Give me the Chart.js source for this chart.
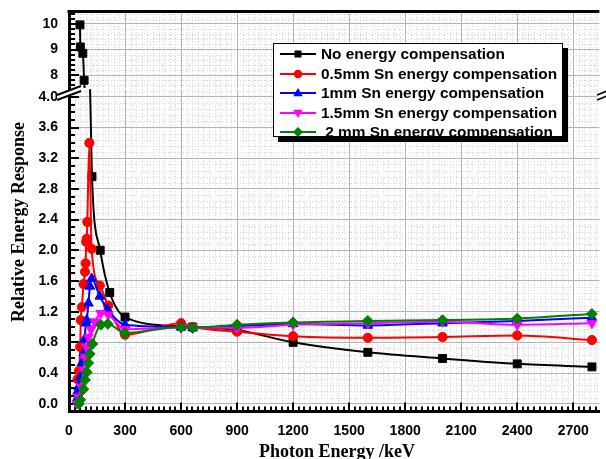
<!DOCTYPE html>
<html>
<head>
<meta charset="utf-8">
<script src="https://cdn.jsdelivr.net/npm/chart.js@4.4.0/dist/chart.umd.min.js"></script>
<style>
html,body{margin:0;padding:0;background:#fff;}
#wrap{position:relative;width:606px;height:459px;overflow:hidden;background:#fff;}
#cTop{position:absolute;left:0;top:0;}
#cBot{position:absolute;left:0;top:76px;}
#brk{position:absolute;left:0;top:0;pointer-events:none;}
.ytitle{position:absolute;left:17.5px;top:222px;transform:translate(-50%,-50%) rotate(-90deg);font:bold 18px "Liberation Serif","Times New Roman",serif;white-space:nowrap;color:#000;}
.xtitle{position:absolute;left:337px;top:451px;transform:translate(-50%,-50%);font:bold 18px "Liberation Serif","Times New Roman",serif;white-space:nowrap;color:#000;}
#legend{position:absolute;left:273px;top:43px;width:288px;height:92px;border:1px solid #000;background:#fff;box-shadow:5px 5px 0 #000;font:bold 15.4px "Liberation Sans",Arial,sans-serif;color:#000;}
.row{position:absolute;left:0;height:20px;display:flex;align-items:center;white-space:pre;}
.row svg{margin-left:6px;margin-right:5px;flex:none;}
</style>
</head>
<body>
<div id="wrap">
  <canvas id="cTop" width="606" height="100"></canvas>
  <canvas id="cBot" width="606" height="383"></canvas>
  <svg id="brk" width="606" height="459">
    <polygon points="57,95 81,86 81,91 57,100" fill="#fff"/>
    <line x1="57" y1="95" x2="81" y2="86" stroke="#000" stroke-width="2"/>
    <line x1="57" y1="100" x2="81" y2="91" stroke="#000" stroke-width="2"/>
    <polygon points="597,95 612,89 612,94 597,100" fill="#fff"/>
    <line x1="597" y1="95" x2="612" y2="89" stroke="#000" stroke-width="1.5"/>
    <line x1="597" y1="100" x2="612" y2="94" stroke="#000" stroke-width="1.5"/>
  </svg>
  <div class="ytitle">Relative Energy Response</div>
  <div class="xtitle">Photon Energy /keV</div>
  <div id="legend"></div>
</div>
<script>
// ---------------- data ----------------
const seriesNames = [
  'No energy compensation',
  '0.5mm Sn energy compensation',
  '1mm Sn energy compensation',
  '1.5mm Sn energy compensation',
  ' 2 mm Sn energy compensation'
];
const energyBlack = [59, 61, 74, 81, 123, 167, 218, 300, 600, 662, 900, 1200, 1600, 2000, 2400, 2800];
const respBlack   = [9.96, 9.10, 8.85, 7.80, 2.96, 2.00, 1.45, 1.13, 1.01, 1.00, 0.96, 0.80, 0.67, 0.59, 0.52, 0.48];

const energyRed = [46, 54, 60, 63, 69, 78, 86, 89, 92, 95, 98, 109, 121, 165, 210, 300, 600, 662, 900, 1200, 1600, 2000, 2400, 2800];
const respRed   = [0.32, 0.43, 0.74, 1.09, 1.26, 1.56, 1.72, 1.83, 2.11, 2.15, 2.37, 3.40, 2.02, 1.54, 1.28, 0.90, 1.05, 1.00, 0.94, 0.88, 0.86, 0.87, 0.89, 0.83];

const energyBlue = [42, 46, 51, 60, 69, 78, 83, 91, 95, 104, 112, 121, 165, 206, 300, 600, 662, 900, 1200, 1600, 2000, 2400, 2800];
const respBlue   = [0.06, 0.16, 0.22, 0.34, 0.53, 0.66, 0.84, 1.05, 1.09, 1.31, 1.53, 1.63, 1.40, 1.23, 1.03, 1.00, 0.99, 1.01, 1.04, 1.02, 1.05, 1.08, 1.12];

const energyMagenta = [42, 51, 65, 78, 86, 95, 104, 118, 139, 170, 210, 300, 600, 662, 900, 1200, 1600, 2000, 2400, 2800];
const respMagenta   = [0.00, 0.09, 0.22, 0.44, 0.61, 0.74, 0.87, 0.97, 1.07, 1.18, 1.16, 0.97, 0.99, 0.99, 0.99, 1.03, 1.05, 1.07, 1.03, 1.05];

const energyGreen = [53, 60, 77, 86, 95, 103, 111, 125, 170, 208, 300, 600, 662, 900, 1200, 1600, 2000, 2400, 2800];
const respGreen   = [0.00, 0.05, 0.19, 0.31, 0.41, 0.53, 0.65, 0.78, 1.03, 1.04, 0.92, 1.00, 0.99, 1.03, 1.06, 1.08, 1.09, 1.11, 1.17];

const xTicks = [0, 300, 600, 900, 1200, 1500, 1800, 2100, 2400, 2700];
const yTicksLower = [0.0, 0.4, 0.8, 1.2, 1.6, 2.0, 2.4, 2.8, 3.2, 3.6, 4.0];
const yTicksUpper = [8, 9, 10];

// ---------------- styles / config ----------------
const energies = [energyBlack, energyRed, energyBlue, energyMagenta, energyGreen];
const responses = [respBlack, respRed, respBlue, respMagenta, respGreen];
const styles = [
  {color:'#000000', shape:'rect',     r:5.6, rot:0},
  {color:'#ff0000', shape:'circle',   r:4.6, rot:0},
  {color:'#0000ff', shape:'triangle', r:5.6, rot:0},
  {color:'#ff00ff', shape:'triangle', r:5.6, rot:180},
  {color:'#008000', shape:'rectRot',  r:5.4, rot:0}
];
const X_MIN = 0, X_MAX = 2840;
const TICK_FONT = {family:'"Liberation Sans", Arial, sans-serif', size:14, weight:'bold'};
const GRID_COLOR = '#b4b4b4';

function makeDatasets() {
  return seriesNames.map((name, i) => ({
    label: name,
    data: energies[i].map((e, j) => ({x: e, y: responses[i][j]})),
    borderColor: styles[i].color,
    backgroundColor: styles[i].color,
    pointStyle: styles[i].shape,
    pointRadius: styles[i].r,
    pointRotation: styles[i].rot,
    pointBorderWidth: 1,
    borderWidth: 2,
    cubicInterpolationMode: 'monotone',
    fill: false,
    order: 4 - i
  }));
}

function decorPlugin(o) {
  return {
    id: 'decor',
    beforeDraw(chart) {
      const ctx = chart.ctx, a = chart.chartArea, xs = chart.scales.x, ys = chart.scales.y;
      ctx.save();
      ctx.strokeStyle = '#d4d4d4';
      ctx.lineWidth = 1;
      ctx.setLineDash([1, 2]);
      ctx.beginPath();
      const kx1 = Math.floor(X_MAX / o.xGrid - 1e-9);
      for (let k = 1; k <= kx1; k++) {
        if (k % o.xGridPer === 0) continue;
        const p = Math.round(xs.getPixelForValue(k * o.xGrid)) + 0.5;
        ctx.moveTo(p, a.top); ctx.lineTo(p, a.bottom);
      }
      const ky0 = Math.ceil(ys.min / o.yGrid + 1e-9), ky1 = Math.floor(ys.max / o.yGrid - 1e-9);
      for (let k = ky0; k <= ky1; k++) {
        if (k % o.yGridPer === 0) continue;
        const p = Math.round(ys.getPixelForValue(k * o.yGrid)) + 0.5;
        ctx.moveTo(a.left, p); ctx.lineTo(a.right, p);
      }
      ctx.stroke();
      ctx.restore();
    },
    beforeDatasetsDraw(chart) {
      const ctx = chart.ctx, a = chart.chartArea, xs = chart.scales.x, ys = chart.scales.y;
      ctx.save();
      ctx.strokeStyle = '#000';
      ctx.lineWidth = 2;
      ctx.beginPath();
      const ky0 = Math.ceil(ys.min / o.yTick + 1e-9), ky1 = Math.floor(ys.max / o.yTick - 1e-9);
      for (let k = ky0; k <= ky1; k++) {
        const p = Math.round(ys.getPixelForValue(k * o.yTick));
        const len = (k % o.yTickPer === 0) ? 10 : 6;
        ctx.moveTo(a.left, p); ctx.lineTo(a.left + len, p);
      }
      if (o.xTicks) {
        const kx1 = Math.floor(X_MAX / o.xTick - 1e-9);
        for (let k = 1; k <= kx1; k++) {
          const p = Math.round(xs.getPixelForValue(k * o.xTick));
          const len = (k % o.xTickPer === 0) ? 9 : 5;
          ctx.moveTo(p, a.bottom); ctx.lineTo(p, a.bottom - len);
        }
      }
      ctx.stroke();
      if (o.topBorder) {
        ctx.lineWidth = 3;
        ctx.beginPath();
        ctx.moveTo(a.left - 1.5, a.top + 0.5); ctx.lineTo(a.right, a.top + 0.5);
        ctx.stroke();
      }
      ctx.restore();
    }
  };
}

function fixY(s) { s.width = 69; s.paddingTop = 0; s.paddingBottom = 0; s.paddingLeft = 0; s.paddingRight = 0; }
function fixX(h) { return s => { s.height = h; s.paddingLeft = 0; s.paddingRight = 0; s.paddingTop = 0; s.paddingBottom = 0; }; }

const common = {
  responsive: false,
  animation: false,
  devicePixelRatio: 1,
  plugins: {legend: {display: false}, tooltip: {enabled: false}},
  events: []
};

// upper part (broken axis: 7.5 - 10.5)
new Chart(document.getElementById('cTop'), {
  type: 'line',
  data: {datasets: makeDatasets()},
  options: Object.assign({}, common, {
    layout: {padding: {top: 11, bottom: 12, left: 0, right: 0}},
    scales: {
      x: {
        type: 'linear', min: X_MIN, max: X_MAX,
        afterBuildTicks: s => { s.ticks = xTicks.map(v => ({value: v})); },
        afterFit: fixX(0),
        ticks: {display: false},
        grid: {color: GRID_COLOR, lineWidth: 1, drawTicks: false},
        border: {display: false}
      },
      y: {
        type: 'linear', min: 7.5, max: 10.5,
        afterBuildTicks: s => { s.ticks = yTicksUpper.map(v => ({value: v})); },
        afterFit: fixY,
        ticks: {font: TICK_FONT, color: '#000', padding: 11, callback: v => String(v)},
        grid: {color: GRID_COLOR, lineWidth: 1, drawTicks: false},
        border: {color: '#000', width: 3}
      }
    }
  }),
  plugins: [decorPlugin({xGrid: 30, xGridPer: 10, yGrid: 0.2, yGridPer: 5, yTick: 0.2, yTickPer: 5, xTicks: false, topBorder: true})]
});

// lower part (-0.1 - 4.1)
new Chart(document.getElementById('cBot'), {
  type: 'line',
  data: {datasets: makeDatasets()},
  options: Object.assign({}, common, {
    layout: {padding: {top: 13.2, bottom: 0, left: 0, right: 0}},
    scales: {
      x: {
        type: 'linear', min: X_MIN, max: X_MAX,
        afterBuildTicks: s => { s.ticks = xTicks.map(v => ({value: v})); },
        afterFit: fixX(47.6),
        ticks: {font: TICK_FONT, color: '#000', padding: 11, maxRotation: 0, autoSkip: false, callback: v => String(v)},
        grid: {color: GRID_COLOR, lineWidth: 1, drawTicks: false},
        border: {color: '#000', width: 3}
      },
      y: {
        type: 'linear', min: -0.1, max: 4.1,
        afterBuildTicks: s => { s.ticks = yTicksLower.map(v => ({value: v})); },
        afterFit: fixY,
        ticks: {font: TICK_FONT, color: '#000', padding: 11, callback: v => Number(v).toFixed(1)},
        grid: {color: GRID_COLOR, lineWidth: 1, drawTicks: false},
        border: {color: '#000', width: 3}
      }
    }
  }),
  plugins: [decorPlugin({xGrid: 30, xGridPer: 10, yGrid: 0.08, yGridPer: 5, yTick: 0.1, yTickPer: 4, xTick: 30, xTickPer: 10, xTicks: true, topBorder: false})]
});

// legend (HTML, real text)
function swatch(st) {
  const c = st.color;
  let m = '';
  if (st.shape === 'rect') m = `<rect x="14.5" y="6.5" width="7" height="7" fill="${c}"/>`;
  else if (st.shape === 'circle') m = `<circle cx="18" cy="10" r="4.2" fill="${c}"/>`;
  else if (st.shape === 'triangle' && st.rot === 0) m = `<polygon points="18,5 22.8,13.2 13.2,13.2" fill="${c}"/>`;
  else if (st.shape === 'triangle') m = `<polygon points="18,15 22.8,6.8 13.2,6.8" fill="${c}"/>`;
  else m = `<polygon points="18,5 23,10 18,15 13,10" fill="${c}"/>`;
  return `<svg width="36" height="20" viewBox="0 0 36 20"><line x1="0" y1="10" x2="36" y2="10" stroke="${c}" stroke-width="2"/>${m}</svg>`;
}
const legendEl = document.getElementById('legend');
seriesNames.forEach((name, i) => {
  const row = document.createElement('div');
  row.className = 'row';
  row.style.top = (i * 19.5) + 'px';
  row.innerHTML = swatch(styles[i]);
  const span = document.createElement('span');
  span.textContent = name;
  row.appendChild(span);
  legendEl.appendChild(row);
});
</script>
</body>
</html>
